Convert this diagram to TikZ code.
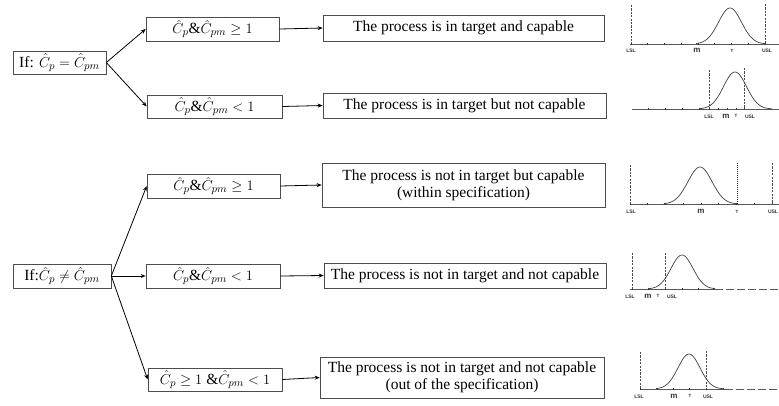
\documentclass[tikz,border=0pt]{standalone}
\usepackage{amsmath,amssymb}
\usepackage{fontspec}
\setmainfont{Liberation Serif}
\setsansfont{Liberation Sans}
\usepackage{tikz}
\usetikzlibrary{arrows.meta}
\tikzset{
  ruleb/.style={draw=black!70, line width=0.6pt, inner sep=0pt, align=center,
                font=\fontsize{15.5}{17}\selectfont},
  flow/.style={-{Stealth[length=5pt,width=4pt]}, line width=0.8pt},
  specl/.style={line width=0.45pt, black!70, dash pattern=on 2.2pt off 1.2pt},
  tgtl/.style={line width=0.5pt, black!80, dash pattern=on 1pt off 1pt},
  axisl/.style={line width=0.6pt, black!65},
  tickl/.style={line width=0.9pt, black!80},
  bell/.style={line width=0.7pt, black!75},
  plab/.style={font=\sffamily\bfseries\fontsize{5}{5}\selectfont, inner sep=0pt, black!80},
  mlab/.style={font=\sffamily\bfseries\fontsize{8}{8}\selectfont, inner sep=0pt, black!80},
  tlab/.style={font=\sffamily\bfseries\fontsize{4.5}{4.5}\selectfont, inner sep=0pt, black!80}
}
\begin{document}
\begin{tikzpicture}[x=1pt, y=-1pt]
  \useasboundingbox (0,0) rectangle (779,405);
  \node[ruleb, minimum width=93pt, minimum height=23pt] (eq) at (59.5,62.5) {If: $\hat{C}_p = \hat{C}_{pm}$};
  \node[ruleb, minimum width=133pt, minimum height=24pt] (eqhi) at (212.5,29) {$\hat{C}_p\&\hat{C}_{pm} \geq 1$};
  \node[ruleb, minimum width=135pt, minimum height=23pt] (eqlo) at (214.5,106.5) {$\hat{C}_p\&\hat{C}_{pm} < 1$};
  \node[ruleb, minimum width=281pt, minimum height=26pt] (reshi) at (463.5,28) {The process is in target and capable};
  \node[ruleb, minimum width=283pt, minimum height=25pt] (reslo) at (464.5,105.5) {The process is in target but not capable};
  \node[ruleb, minimum width=98pt, minimum height=24pt] (ne) at (62,276) {If:$\hat{C}_p \neq \hat{C}_{pm}$};
  \node[ruleb, minimum width=133pt, minimum height=24pt] (nehi) at (213.5,186) {$\hat{C}_p\&\hat{C}_{pm} \geq 1$};
  \node[ruleb, minimum width=134pt, minimum height=24pt] (nelo) at (213,276) {$\hat{C}_p\&\hat{C}_{pm} < 1$};
  \node[ruleb, minimum width=134pt, minimum height=23pt] (nemix) at (215,379.5) {$\hat{C}_p \geq 1\;\&\hat{C}_{pm} < 1$};
  \node[ruleb, minimum width=283pt, minimum height=44pt] (resnhi) at (463.5,185) {The process is not in target but capable\\(within specification)};
  \node[ruleb, minimum width=282pt, minimum height=25pt] (resnlo) at (465,275.5) {The process is not in target and not capable};
  \node[ruleb, minimum width=284pt, minimum height=41pt] (resnmix) at (462,377.5) {The process is not in target and not capable\\(out of the specification)};
  \draw[flow] (eq.east) -- (eqhi.west);
  \draw[flow] (eq.east) -- (eqlo.west);
  \draw[flow] (eqhi.east) -- (reshi.west);
  \draw[flow] (eqlo.east) -- (reslo.west);
  \draw[flow] (ne.east) -- (nehi.west);
  \draw[flow] (ne.east) -- (nelo.west);
  \draw[flow] (ne.east) -- (nemix.west);
  \draw[flow] (nehi.east) -- (resnhi.west);
  \draw[flow] (nelo.east) -- (resnlo.west);
  \draw[flow] (nemix.east) -- (resnmix.west);
  \draw[axisl] (630,44) -- (779,44);
  \foreach \t in {631,647.75,...,766} \draw[tickl] (\t,42.8) -- (\t,45.2);
  \draw[specl] (631,5) -- (631,44);
  \draw[specl] (765,4) -- (765,44);
  \draw[bell] plot[domain=696:765, samples=60, smooth] (\x, {44-36*exp(-((\x-730)/11.5)*((\x-730)/11.5)/2)});
  \node[plab] (lsla) at (631,51) {LSL};
  \node[mlab] (ma) at (697,50) {m};
  \node[tlab] (ta) at (732,51) {T};
  \node[plab] (usla) at (767,51) {USL};
  \draw[axisl] (632,109) -- (779,109);
  \foreach \t in {648,665,682,699,709,718,727,736,744} \draw[tickl] (\t,107.8) -- (\t,110.2);
  \draw[specl] (709,70) -- (709,109);
  \draw[specl] (744,68) -- (744,109);
  \draw[bell] plot[domain=700:772, samples=60, smooth] (\x, {109-37*exp(-((\x-735)/11.5)*((\x-735)/11.5)/2)});
  \node[plab] (lslb) at (709,117) {LSL};
  \node[mlab] (mb) at (726,116) {m};
  \node[tlab] (tb) at (736,116) {T};
  \node[plab] (uslb) at (750,117) {USL};
  \draw[axisl] (630,204) -- (779,204);
  \foreach \t in {630,647.75,...,773} \draw[tickl] (\t,202.8) -- (\t,205.2);
  \draw[specl] (630,165) -- (630,204);
  \draw[tgtl] (737,163) -- (737,204);
  \draw[specl] (772,163) -- (772,204);
  \draw[bell] plot[domain=664:737, samples=60, smooth] (\x, {204-37*exp(-((\x-700)/12)*((\x-700)/12)/2)});
  \node[plab] (lslc) at (631,212) {LSL};
  \node[mlab] (mc) at (701,211) {m};
  \node[tlab] (tc) at (737,212) {T};
  \node[plab] (uslc) at (773,212) {USL};
  \draw[axisl] (630,289) -- (715,289);
  \draw[axisl, dash pattern=on 8pt off 3pt] (715,289) -- (779,289);
  \foreach \t in {632,648,665,682,698,713} \draw[tickl] (\t,287.8) -- (\t,290.2);
  \draw[specl] (632,253) -- (632,289);
  \draw[specl] (665,253) -- (665,289);
  \draw[bell] plot[domain=648:715, samples=60, smooth] (\x, {289-34*exp(-((\x-682)/11)*((\x-682)/11)/2)});
  \node[plab] (lsld) at (630,297) {LSL};
  \node[mlab] (md) at (648,296) {m};
  \node[tlab] (td) at (658,296) {T};
  \node[plab] (usld) at (672,297) {USL};
  \draw[axisl] (640,389) -- (725,389);
  \draw[axisl, dash pattern=on 8pt off 3pt] (725,389) -- (779,389);
  \foreach \t in {640,657,673,689,706,723} \draw[tickl] (\t,387.8) -- (\t,390.2);
  \draw[specl] (640,352) -- (640,389);
  \draw[specl] (706,351) -- (706,389);
  \draw[bell] plot[domain=656:723, samples=60, smooth] (\x, {389-35*exp(-((\x-689)/11)*((\x-689)/11)/2)});
  \node[plab] (lsle) at (639,397) {LSL};
  \node[mlab] (me) at (674,396) {m};
  \node[tlab] (te) at (690,396) {T};
  \node[plab] (usle) at (708,397) {USL};
\end{tikzpicture}
\end{document}
